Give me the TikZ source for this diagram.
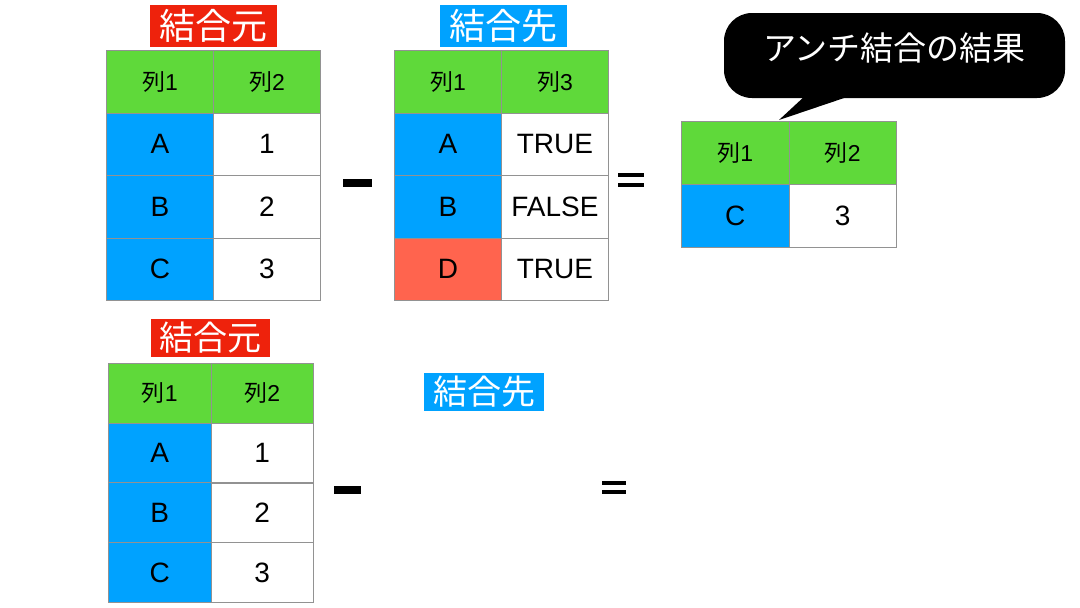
\documentclass[tikz,border=0pt]{standalone}
\usepackage{fontspec}
\setmainfont{Liberation Sans}
\newfontfamily\jp{Noto Sans CJK JP}
\usetikzlibrary{positioning}

\definecolor{headgreen}{HTML}{5FD93A}
\definecolor{keyblue}{HTML}{00A2FF}
\definecolor{labelred}{HTML}{EE220C}
\definecolor{missred}{HTML}{FF644E}
\definecolor{rulegray}{HTML}{929292}

\newcommand{\retsu}[1]{{\jp 列}#1}

\tikzset{
  cell/.style={draw=rulegray, line width=0.8pt, anchor=north west, inner sep=0pt,
    minimum width=107pt, minimum height=62.5pt, font=\fontsize{28}{28}\selectfont},
  head/.style={cell, fill=headgreen, font=\fontsize{23}{23}\selectfont},
  key/.style={cell, fill=keyblue},
  tag/.style={text=white, inner sep=0pt, minimum width=127pt, minimum height=42pt,
    font=\jp\fontsize{36}{36}\selectfont},
}

\begin{document}
\begin{tikzpicture}[x=1pt,y=-1pt]

\useasboundingbox (0,0) rectangle (1080,608);

% top row: source - target = result
\node[tag, fill=labelred] (srctag) at (213.5,25.5) {結合元};
\node[head] (src-h1) at (106,50) {\retsu{1}};
\node[head] (src-h2) at (213,50) {\retsu{2}};
\foreach \k/\v [count=\i] in {A/1, B/2, C/3} {
    \node[key] (src-k\i) at (106,{50+62.5*\i}) {\k};
    \node[cell] (src-v\i) at (213,{50+62.5*\i}) {\v};
}

\fill (343,179) rectangle (372,187);

\node[tag, fill=keyblue] (dsttag) at (503,25.5) {結合先};
\node[head] (dst-h1) at (394,50) {\retsu{1}};
\node[head] (dst-h2) at (501,50) {\retsu{3}};
\foreach \k/\v/\f [count=\i] in {A/TRUE/keyblue, B/FALSE/keyblue, D/TRUE/missred} {
    \node[cell, fill=\f] (dst-k\i) at (394,{50+62.5*\i}) {\k};
    \node[cell] (dst-v\i) at (501,{50+62.5*\i}) {\v};
}

\fill (618,173) rectangle (644,177);
\fill (618,183) rectangle (644,187);

\node[head, minimum width=107.5pt, minimum height=63pt] (res-h1) at (681,121) {\retsu{1}};
\node[head, minimum width=107.5pt, minimum height=63pt] (res-h2) at (788.5,121) {\retsu{2}};
\node[key, minimum width=107.5pt, minimum height=63pt] (res-k1) at (681,184) {C};
\node[cell, minimum width=107.5pt, minimum height=63pt] (res-v1) at (788.5,184) {3};

% speech bubble
\coordinate (tailL) at (806,95);
\coordinate (tailR) at (853,95);
\coordinate (tailtip) at (779,120);
\fill (tailL) -- (tailtip) -- (tailR) -- cycle;
\node[fill=black, rounded corners=28pt, minimum width=341pt, minimum height=85pt,
      text=white, text height=29pt, text depth=20pt,
      font=\jp\fontsize{33}{33}\selectfont] (bubble) at (894.5,55.5) {アンチ結合の結果};

% bottom row: empty target
\node[tag, fill=labelred, minimum width=119pt, minimum height=38pt,
      font=\jp\fontsize{34}{34}\selectfont] (srctag2) at (210.5,338) {結合元};
\node[head, minimum width=102.5pt, minimum height=60pt] (src2-h1) at (108,363) {\retsu{1}};
\node[head, minimum width=102.5pt, minimum height=60pt] (src2-h2) at (210.5,363) {\retsu{2}};
\foreach \k/\v [count=\i] in {A/1, B/2, C/3} {
    \node[key, minimum width=102.5pt, minimum height=60pt] (src2-k\i) at (108,{363+59.7*\i}) {\k};
    \node[cell, minimum width=102.5pt, minimum height=60pt] (src2-v\i) at (210.5,{363+59.7*\i}) {\v};
}

\fill (334,486) rectangle (361,494);

\node[tag, fill=keyblue, minimum width=120pt, minimum height=38pt,
      font=\jp\fontsize{34}{34}\selectfont] (dsttag2) at (484,392) {結合先};

\fill (602,481) rectangle (626,485);
\fill (602,490) rectangle (626,494);

\end{tikzpicture}
\end{document}
